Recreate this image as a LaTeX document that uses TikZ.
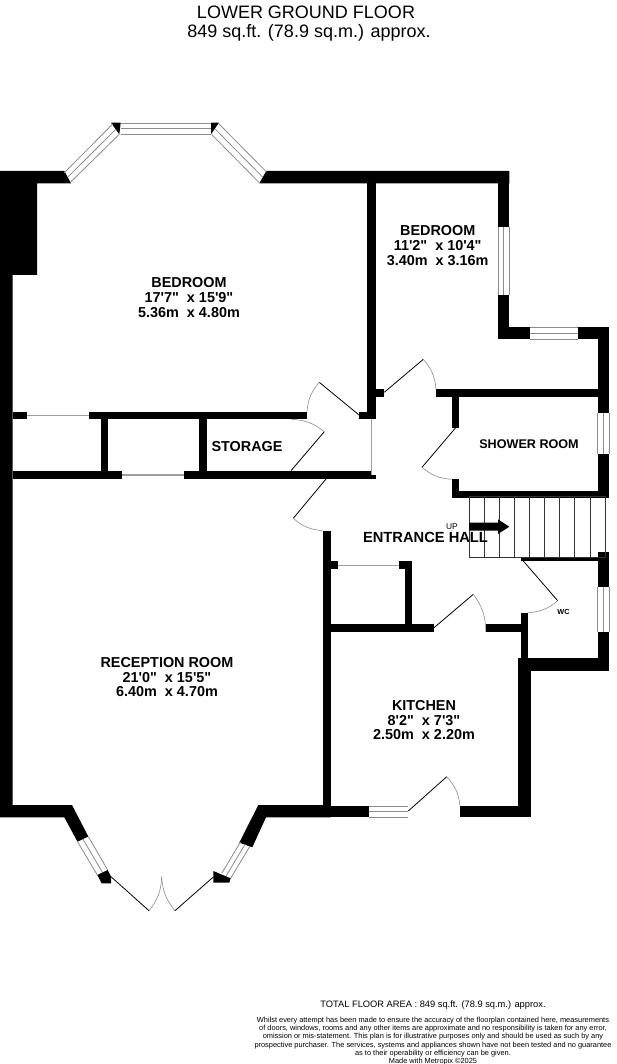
\documentclass[tikz,border=0pt]{standalone}
\usepackage{fontspec}
\setmainfont{Liberation Sans}[Ligatures=TeXOff]
\newcommand{\wl}[4]{\fill[wallfill] (#1,#2) rectangle (#3,#4);}
\newcommand{\winH}[4]{\draw[glass] (#1,#2) -- (#3,#2) (#1,#4) -- (#3,#4) (#1,{(#2+#4)/2}) -- (#3,{(#2+#4)/2});}
\newcommand{\winV}[4]{\draw[glass] (#1,#2) -- (#1,#4) (#3,#2) -- (#3,#4) ({(#1+#3)/2},#2) -- ({(#1+#3)/2},#4);}
\newcommand{\winD}[8]{\draw[glass] (#1,#2) -- (#3,#4) (#5,#6) -- (#7,#8) ({(#1+#5)/2},{(#2+#6)/2}) -- ({(#3+#7)/2},{(#4+#8)/2});}
\newcommand{\fsz}[1]{\fontsize{#1}{#1}\selectfont}
\tikzset{
  x=1pt,y=-1pt,
  wallfill/.style={fill=black},
  glass/.style={draw=black!45,line width=0.8pt},
  opening/.style={draw=black!38,line width=0.8pt},
  leaf/.style={draw=black,line width=0.8pt},
  swing/.style={draw=black!45,line width=0.6pt},
  tread/.style={draw=black!80,line width=0.8pt},
  roomlabel/.style={font=\bfseries\fsz{14.4},align=center,inner sep=0pt,text depth=0pt},
  plain/.style={align=center,inner sep=0pt}
}
\begin{document}
\begin{tikzpicture}
\useasboundingbox[fill=white] (0,0) rectangle (616,1064);
% outer walls
\fill[wallfill] (0,171) -- (64.3,171) -- (71,183.3) -- (37,183.3) -- (37,275) -- (12.7,275) -- (12.7,805) -- (72,805) -- (88.3,836.5) -- (77.5,841.7) -- (64.3,817.3) -- (0,817.3) -- cycle;
\fill[wallfill] (111,122.7) -- (120.7,122.7) -- (119.3,134.3) -- cycle;
\fill[wallfill] (211,122.7) -- (219,122.7) -- (211,134.3) -- cycle;
\fill[wallfill] (266.3,171) -- (509.3,171) -- (509.3,183.3) -- (259.3,183.3) -- cycle;
\winD{64.3}{172.7}{112.7}{124}{71}{181.7}{119.3}{134.3}
\winH{120.7}{123}{211}{134.7}
\winD{219}{124}{266.3}{171.7}{211.7}{134.5}{259.3}{182.7}
% bedroom 2 walls
\wl{367.3}{183}{375.7}{419.3}
\wl{497.7}{171}{509.3}{226.7}
\winV{497.9}{226.7}{509.1}{295}
\wl{497.7}{295}{509.3}{339.3}
\wl{497.7}{327.3}{530.3}{339.3}
\winH{530.3}{327.6}{578}{339}
\wl{578}{327.3}{609.3}{339.3}
\wl{597.5}{327.3}{609.3}{413}
\winV{597.7}{413}{609.1}{454}
\wl{597.5}{454}{609.3}{498}
\wl{436}{389}{597.5}{397.2}
\wl{375.7}{389.3}{384.3}{397.2}
% storage walls
\wl{12.7}{411.7}{27.3}{419.3}
\draw[opening] (27.3,415) -- (88.7,415);
\wl{88.7}{411.7}{307}{419.3}
\wl{359}{411.7}{375.7}{419.3}
\wl{100.7}{419}{108.3}{471}
\wl{199}{419}{206.7}{471}
\wl{12.7}{471}{122.3}{479}
\draw[opening,line width=1.1pt] (122.3,475) -- (183.7,475);
\wl{183.7}{471}{371.3}{479}
\wl{371.3}{475}{375.7}{479}
\draw[opening] (371.8,419) -- (371.8,475);
% shower walls
\wl{451.7}{397}{459.3}{427.7}
\wl{451.7}{479.3}{459.3}{498}
\wl{451.7}{490.7}{609.3}{498}
% hall and closet
\wl{322.7}{530.7}{330.7}{805.7}
\wl{330}{561}{337.7}{569}
\draw[opening] (337.7,565) -- (399.3,565);
\wl{399.3}{561}{412.3}{569}
\wl{405}{561}{412.3}{625}
\wl{330.7}{624}{434}{631.7}
\wl{485.7}{624}{521}{631.7}
% WC
\wl{520.7}{557.2}{597.5}{561}
\wl{597.5}{551.5}{609.3}{586.7}
\winV{597.7}{586.7}{609.1}{631.7}
\wl{597.5}{631.7}{609.3}{670.7}
\wl{520.7}{612.7}{528.3}{660}
\wl{518.3}{658.3}{609.3}{670.7}
% kitchen
\wl{518.3}{660}{530.7}{817.3}
\wl{322.7}{805.5}{369.3}{817.3}
\winH{369.3}{806}{408.3}{817}
\wl{460}{805.5}{530.7}{817.3}
% bay, bottom
\fill[wallfill] (258.3,805) -- (330.7,805) -- (330.7,817.3) -- (266,817.3) -- (252.3,847.3) -- (239.3,842.7) -- cycle;
\winD{77.5}{841.7}{97.3}{875}{88.3}{836.5}{107.7}{870}
\winD{221.7}{873.3}{240.5}{842}{230.7}{878.3}{250}{846}
\fill[wallfill] (97.3,875) -- (107.7,870) -- (111,876.7) -- (111,883.3) -- (101.7,883.3) -- cycle;
\fill[wallfill] (213.3,871) -- (213.3,882.7) -- (229.3,882.7) -- (230.7,878.3) -- cycle;
% doors
\draw[leaf] (359,415) -- (319.3,382.3);
\draw[swing] (319.3,382.3) to[bend right=18] (307,411.7);
\draw[leaf] (291,470.7) -- (324.3,431.7);
\draw[swing] (324.3,431.7) to[bend right=18] (291,419.3);
\draw[leaf] (326,479) -- (293.3,518.3);
\draw[swing] (293.3,518.3) to[bend right=18] (322.7,530.7);
\draw[leaf] (384.3,392.3) -- (423.3,359.3);
\draw[swing] (423.3,359.3) to[bend left=18] (436,389);
\draw[leaf] (455.7,427.7) -- (422,467.3);
\draw[swing] (422,467.3) to[bend right=18] (451.7,479.3);
\draw[leaf] (434,627.7) -- (473.3,594.3);
\draw[swing] (473.3,594.3) to[bend left=18] (485.7,631.7);
\draw[leaf] (523.3,561) -- (557.7,600.7);
\draw[swing] (557.7,600.7) to[bend left=18] (528.3,612.7);
\draw[leaf] (408.3,811) -- (446.7,776.7);
\draw[swing] (446.7,776.7) to[bend left=18] (460,805.7);
\draw[leaf] (111,876.7) -- (149,910.7);
\draw[swing] (149,910.7) to[bend right=18] (161.7,876.7);
\draw[leaf] (213.3,877) -- (175,910.7);
\draw[swing] (175,910.7) to[bend left=18] (161.7,876.7);
% stairs
\draw[tread] (469,496.7) rectangle (605,557);
\foreach \sx in {484.1,499.2,514.3,529.4,544.6,559.7,574.8,589.9}
  \draw[tread] (\sx,496.7) -- (\sx,557);
\fill[wallfill] (469,522.7) -- (498,522.7) -- (498,519.3) -- (509.3,526.7) -- (498,534) -- (498,530.7) -- (469,530.7) -- cycle;
% text
\node[plain,anchor=base,font=\fsz{18}] (title1) at (306,19) {LOWER GROUND FLOOR};
\node[plain,anchor=base,font=\fsz{18}] (title2) at (309,37.5) {849 sq.ft. (78.9 sq.m.) approx.};
\node[roomlabel] (bed1) at (189,297.5) {BEDROOM\\[0.5pt]17'7"\ \ x 15'9"\\[0.5pt]5.36m\ \ x 4.80m};
\node[roomlabel] (bed2) at (437.7,245.5) {BEDROOM\\[0.5pt]11'2"\ \ x 10'4"\\[0.5pt]3.40m\ \ x 3.16m};
\node[roomlabel] (store) at (247,446) {STORAGE};
\node[roomlabel,font=\bfseries\fsz{12.6}] (shower) at (529,444.5) {SHOWER ROOM};
\node[roomlabel,font=\bfseries\fsz{14.7}] (hall) at (425.5,537) {ENTRANCE HALL};
\node[plain,font=\fsz{8.4}] (up) at (452,526.5) {UP};
\node[plain,font=\bfseries\fsz{7.3}] (wc) at (563.5,611.5) {WC};
\node[roomlabel] (recep) at (167,677) {RECEPTION ROOM\\[0.5pt]21'0"\ \ x 15'5"\\[0.5pt]6.40m\ \ x 4.70m};
\node[roomlabel] (kit) at (424,720) {KITCHEN\\[0.5pt]8'2"\ \ x 7'3"\\[0.5pt]2.50m\ \ x 2.20m};
\node[plain,font=\fsz{9.3}] (total) at (433,1005.5) {TOTAL FLOOR AREA : 849 sq.ft. (78.9 sq.m.) approx.};
\node[plain,anchor=north,font=\fontsize{7.4}{8.35}\selectfont] (note) at (433,1016.5) {Whilst every attempt has been made to ensure the accuracy of the floorplan contained here, measurements\\of doors, windows, rooms and any other items are approximate and no responsibility is taken for any error,\\omission or mis-statement. This plan is for illustrative purposes only and should be used as such by any\\prospective purchaser. The services, systems and appliances shown have not been tested and no guarantee\\as to their operability or efficiency can be given.\\Made with Metropix \textcopyright 2025};
\end{tikzpicture}
\end{document}
